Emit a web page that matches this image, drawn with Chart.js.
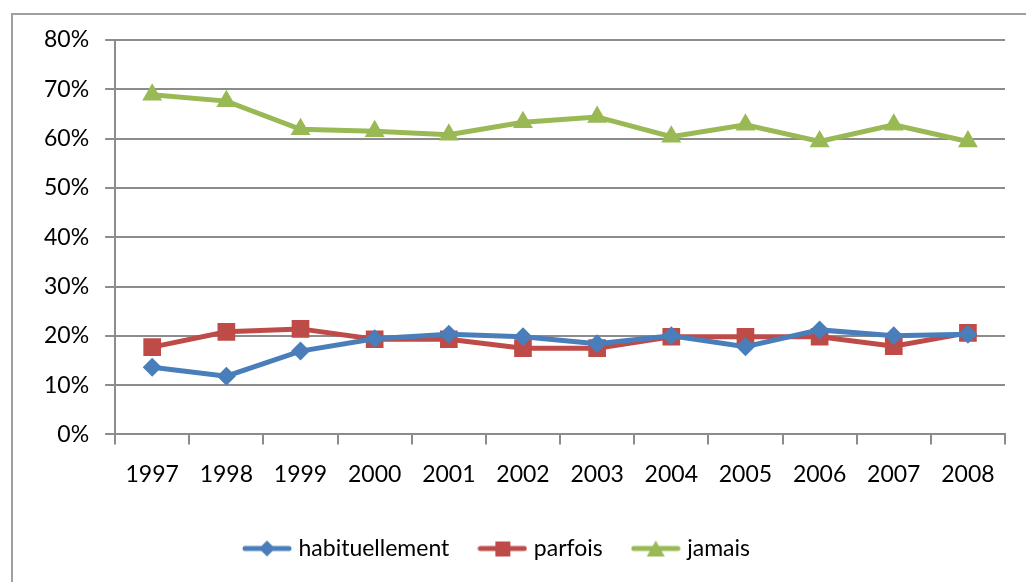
<!DOCTYPE html>
<html>
<head>
<meta charset="utf-8">
<script src="https://cdn.jsdelivr.net/npm/chart.js@4/dist/chart.umd.min.js"></script>
<style>
  body { margin: 0; background: #fff; }
  #wrap { width: 1026px; height: 582px; position: relative; }
</style>
</head>
<body>
<div id="wrap"><canvas id="Chart"></canvas></div>
<script>
// years on the x axis
const years = ["1997","1998","1999","2000","2001","2002","2003","2004","2005","2006","2007","2008"];
// percentages
const habituellement = [13.6, 11.8, 16.9, 19.4, 20.3, 19.8, 18.4, 20.0, 17.8, 21.2, 20.0, 20.3];
const parfois = [17.7, 20.8, 21.4, 19.3, 19.3, 17.5, 17.5, 19.8, 19.8, 19.8, 17.9, 20.6];
const jamais = [68.9, 67.6, 61.9, 61.5, 60.8, 63.3, 64.4, 60.4, 62.8, 59.4, 62.8, 59.4];
const yTicks = [0, 10, 20, 30, 40, 50, 60, 70, 80];

const BLUE = "#4a7ebb", RED = "#be4b48", GREEN = "#98b954";
const FONT = "Lato, 'Open Sans', sans-serif";

// little line+marker pictures for the legend
function legendIcon(color, shape){
  const c = document.createElement("canvas");
  c.width = 50; c.height = 24;
  const g = c.getContext("2d");
  g.strokeStyle = color; g.lineWidth = 5; g.lineCap = "round";
  g.beginPath(); g.moveTo(3, 12); g.lineTo(47, 12); g.stroke();
  g.fillStyle = color;
  g.beginPath();
  if (shape == "diamond"){
    g.moveTo(25, 4); g.lineTo(33, 12); g.lineTo(25, 20); g.lineTo(17, 12);
  } else if (shape == "square"){
    g.rect(18, 5, 15, 15);
  } else {
    g.moveTo(25, 4); g.lineTo(34, 20); g.lineTo(16, 20);
  }
  g.closePath(); g.fill();
  return c;
}
const icons = [legendIcon(BLUE, "diamond"), legendIcon(RED, "square"), legendIcon(GREEN, "tri")];

const outerBorder = {
  id: "outerBorder",
  beforeDraw(chart){
    const ctx = chart.ctx;
    ctx.save();
    ctx.strokeStyle = "#a0a0a0";
    ctx.lineWidth = 2;
    ctx.beginPath();
    ctx.moveTo(12, 582); ctx.lineTo(12, 14); ctx.lineTo(1026, 14);
    ctx.stroke();
    ctx.restore();
  }
};

// the legend sits a bit left of centre in the original
const legendShift = {
  id: "legendShift",
  afterLayout(chart){
    chart.legend.left -= 36;
  }
};

Chart.defaults.font.family = FONT;
Chart.defaults.font.size = 23;
Chart.defaults.color = "#000";

new Chart("Chart", {
  type: "line",
  data: {
    labels: years,
    datasets: [
      { label: "habituellement", data: habituellement, borderColor: BLUE, backgroundColor: BLUE,
        borderWidth: 5, pointStyle: "rectRot", pointRadius: 9.5, pointHoverRadius: 9.5, pointBorderWidth: 0 },
      { label: "parfois", data: parfois, borderColor: RED, backgroundColor: RED,
        borderWidth: 5, pointStyle: "rect", pointRadius: 12.5, pointHoverRadius: 12.5, pointBorderWidth: 0 },
      { label: "jamais", data: jamais, borderColor: GREEN, backgroundColor: GREEN,
        borderWidth: 5, pointStyle: "triangle", pointRadius: 11.5, pointHoverRadius: 11.5, pointBorderWidth: 0 }
    ]
  },
  options: {
    responsive: true,
    maintainAspectRatio: false,
    animation: false,
    layout: { padding: { left: 28, right: 21, top: 40, bottom: 12 } },
    scales: {
      x: {
        offset: true,
        grid: { offset: true, drawOnChartArea: false, drawTicks: true, tickLength: 10, color: "#8c8c8c", lineWidth: 2 },
        border: { color: "#8c8c8c", width: 2 },
        ticks: { padding: 16, maxRotation: 0 }
      },
      y: {
        min: 0, max: 80,
        afterBuildTicks(scale){ scale.ticks = yTicks.map(v => ({ value: v })); },
        grid: { color: "#8c8c8c", lineWidth: 2, tickLength: 10 },
        border: { color: "#8c8c8c", width: 2 },
        ticks: { padding: 16, callback: v => v + "%" }
      }
    },
    plugins: {
      legend: {
        position: "bottom",
        labels: {
          usePointStyle: true,
          pointStyleWidth: 40,
          padding: 33,
          generateLabels(chart){
            return chart.data.datasets.map((d, i) => ({
              text: d.label, pointStyle: icons[i], fillStyle: d.borderColor,
              strokeStyle: d.borderColor, lineWidth: 0, datasetIndex: i, hidden: false
            }));
          }
        }
      },
      tooltip: { enabled: false }
    }
  },
  plugins: [outerBorder, legendShift]
});
</script>
</body>
</html>
